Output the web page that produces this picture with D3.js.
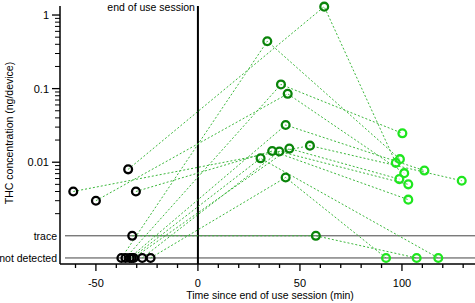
<!DOCTYPE html>
<html>
<head>
<meta charset="utf-8">
<script src="https://cdn.jsdelivr.net/npm/d3@7"></script>
<style>
  body { margin: 0; background: #fff; }
  text { font-family: "Liberation Sans", Arial, sans-serif; }
</style>
</head>
<body>
<div id="chart"></div>
<script>
// before use session (black), first sample after (dark green), second sample after (light green)
// "trace" and "nd" (not detected) are placed on their own rows under the log axis
var beforeTime = [-34.2, -37.5, -35.5, -50, -33.5, -61.1, -31.5, -27.3, -30.4, -32.5, -23.2, -32.2];
var beforeConc = [0.008, "nd", "nd", 0.003, "nd", 0.004, "nd", "nd", 0.004, "nd", "nd", "trace"];
var after1Time = [61.9, 34, 40.7, 44, 43, 54.9, 44.8, 39.9, 36.4, 30.7, 43, 57.8];
var after1Conc = [1.3, 0.44, 0.114, 0.085, 0.032, 0.0168, 0.0153, 0.014, 0.0142, 0.0113, 0.0062, "trace"];
var after2Time = [97, 99, 100.2, 101.1, 111, 129.3, 98.7, 103.1, 103.1, 117.8, 92.2, 107.2];
var after2Conc = [0.0098, 0.011, 0.0247, 0.0071, 0.0077, 0.0056, 0.0059, 0.005, 0.0031, "nd", "nd", "nd"];

var xTickLabels = [-50, 0, 50, 100];
var yTickLabels = [1, 0.1, 0.01];
var catLabels = ["trace", "not detected"];

var width = 475, height = 303;

var svg = d3
  .select("#chart")
  .append("svg")
  .attr("width", width)
  .attr("height", height);

// scales
var x = d3.scaleLinear().domain([-67.6, 135.8]).range([60, 475]);
var y = d3.scaleLog().domain([0.000414, 1.326]).range([264, 6]);
var catValue = { trace: 0.001, nd: 0.0005 };

function yPos(v) {
  if (typeof v === "string") return y(catValue[v]);
  return y(v);
}

// trace / not detected rows
[catValue.trace, catValue.nd].forEach(function (v, i) {
  svg
    .append("line")
    .attr("x1", 65)
    .attr("x2", 475)
    .attr("y1", y(v))
    .attr("y2", y(v))
    .attr("stroke", "#444")
    .attr("stroke-width", 1);
  svg
    .append("text")
    .attr("x", 57)
    .attr("y", y(v) + 4)
    .attr("text-anchor", "end")
    .style("font-size", "10.5px")
    .text(catLabels[i]);
});

// y axis
var yAxis = svg.append("g").attr("transform", "translate(60,0)");
yAxis
  .append("line")
  .attr("y1", 6)
  .attr("y2", 264)
  .attr("stroke", "#000")
  .attr("stroke-width", 1.5);

var minorY = [];
[0.001, 0.01, 0.1, 1].forEach(function (base) {
  for (var k = 2; k <= 9; k++) {
    var v = base * k;
    if (v < 1.3 && v > 0.0015) minorY.push(v);
  }
});
yAxis
  .selectAll(".minor")
  .data(minorY)
  .enter()
  .append("line")
  .attr("x1", -5)
  .attr("x2", 0)
  .attr("y1", function (d) { return y(d); })
  .attr("y2", function (d) { return y(d); })
  .attr("stroke", "#000");
yAxis
  .selectAll(".major")
  .data(yTickLabels)
  .enter()
  .append("line")
  .attr("x1", -8)
  .attr("x2", 0)
  .attr("y1", function (d) { return y(d); })
  .attr("y2", function (d) { return y(d); })
  .attr("stroke", "#000")
  .attr("stroke-width", 1.3);
yAxis
  .selectAll(".lab")
  .data(yTickLabels)
  .enter()
  .append("text")
  .attr("x", -11)
  .attr("y", function (d) { return y(d) + 4; })
  .attr("text-anchor", "end")
  .style("font-size", "11px")
  .text(function (d) { return d; });

// x axis
var xAxis = svg.append("g").attr("transform", "translate(0,264)");
xAxis
  .append("line")
  .attr("x1", 60)
  .attr("x2", 475)
  .attr("stroke", "#000")
  .attr("stroke-width", 1.5);
xAxis
  .selectAll(".tick")
  .data(d3.range(-60, 140, 10))
  .enter()
  .append("line")
  .attr("x1", function (d) { return x(d); })
  .attr("x2", function (d) { return x(d); })
  .attr("y1", 0)
  .attr("y2", function (d) { return d % 50 === 0 ? 7 : 4; })
  .attr("stroke", "#000")
  .attr("stroke-width", 1.3);
xAxis
  .selectAll(".lab")
  .data(xTickLabels)
  .enter()
  .append("text")
  .attr("x", function (d) { return x(d); })
  .attr("y", 23)
  .attr("text-anchor", "middle")
  .style("font-size", "11px")
  .text(function (d) { return d; });

// axis titles
svg
  .append("text")
  .attr("x", 270)
  .attr("y", 299)
  .attr("text-anchor", "middle")
  .style("font-size", "10.5px")
  .text("Time since end of use session (min)");

svg
  .append("text")
  .attr("transform", "translate(13,133) rotate(-90)")
  .attr("text-anchor", "middle")
  .style("font-size", "10.5px")
  .text("THC concentration (ng/device)");

// end of use session marker
svg
  .append("line")
  .attr("x1", x(0))
  .attr("x2", x(0))
  .attr("y1", 6)
  .attr("y2", 264)
  .attr("stroke", "#000")
  .attr("stroke-width", 2);
svg
  .append("text")
  .attr("x", x(0) - 3)
  .attr("y", 11)
  .attr("text-anchor", "end")
  .style("font-size", "10.5px")
  .text("end of use session");

// connecting dashed lines per subject
var subjects = beforeTime.map(function (t, i) {
  return [
    [t, beforeConc[i]],
    [after1Time[i], after1Conc[i]],
    [after2Time[i], after2Conc[i]],
  ];
});

var line = d3
  .line()
  .x(function (d) { return x(d[0]); })
  .y(function (d) { return yPos(d[1]); });

svg
  .selectAll(".subject")
  .data(subjects)
  .enter()
  .append("path")
  .attr("d", line)
  .attr("fill", "none")
  .attr("stroke", "#3cb83c")
  .attr("stroke-width", 1)
  .attr("stroke-dasharray", "2,2");

// markers
function drawDots(times, concs, color) {
  svg
    .append("g")
    .selectAll("circle")
    .data(times)
    .enter()
    .append("circle")
    .attr("cx", function (d) { return x(d); })
    .attr("cy", function (d, i) { return yPos(concs[i]); })
    .attr("r", 3.9)
    .attr("fill", "none")
    .attr("stroke", color)
    .attr("stroke-width", 2.3);
}

drawDots(beforeTime, beforeConc, "#000");
drawDots(after1Time, after1Conc, "#0a840a");
drawDots(after2Time, after2Conc, "#1fe61f");
</script>
</body>
</html>
